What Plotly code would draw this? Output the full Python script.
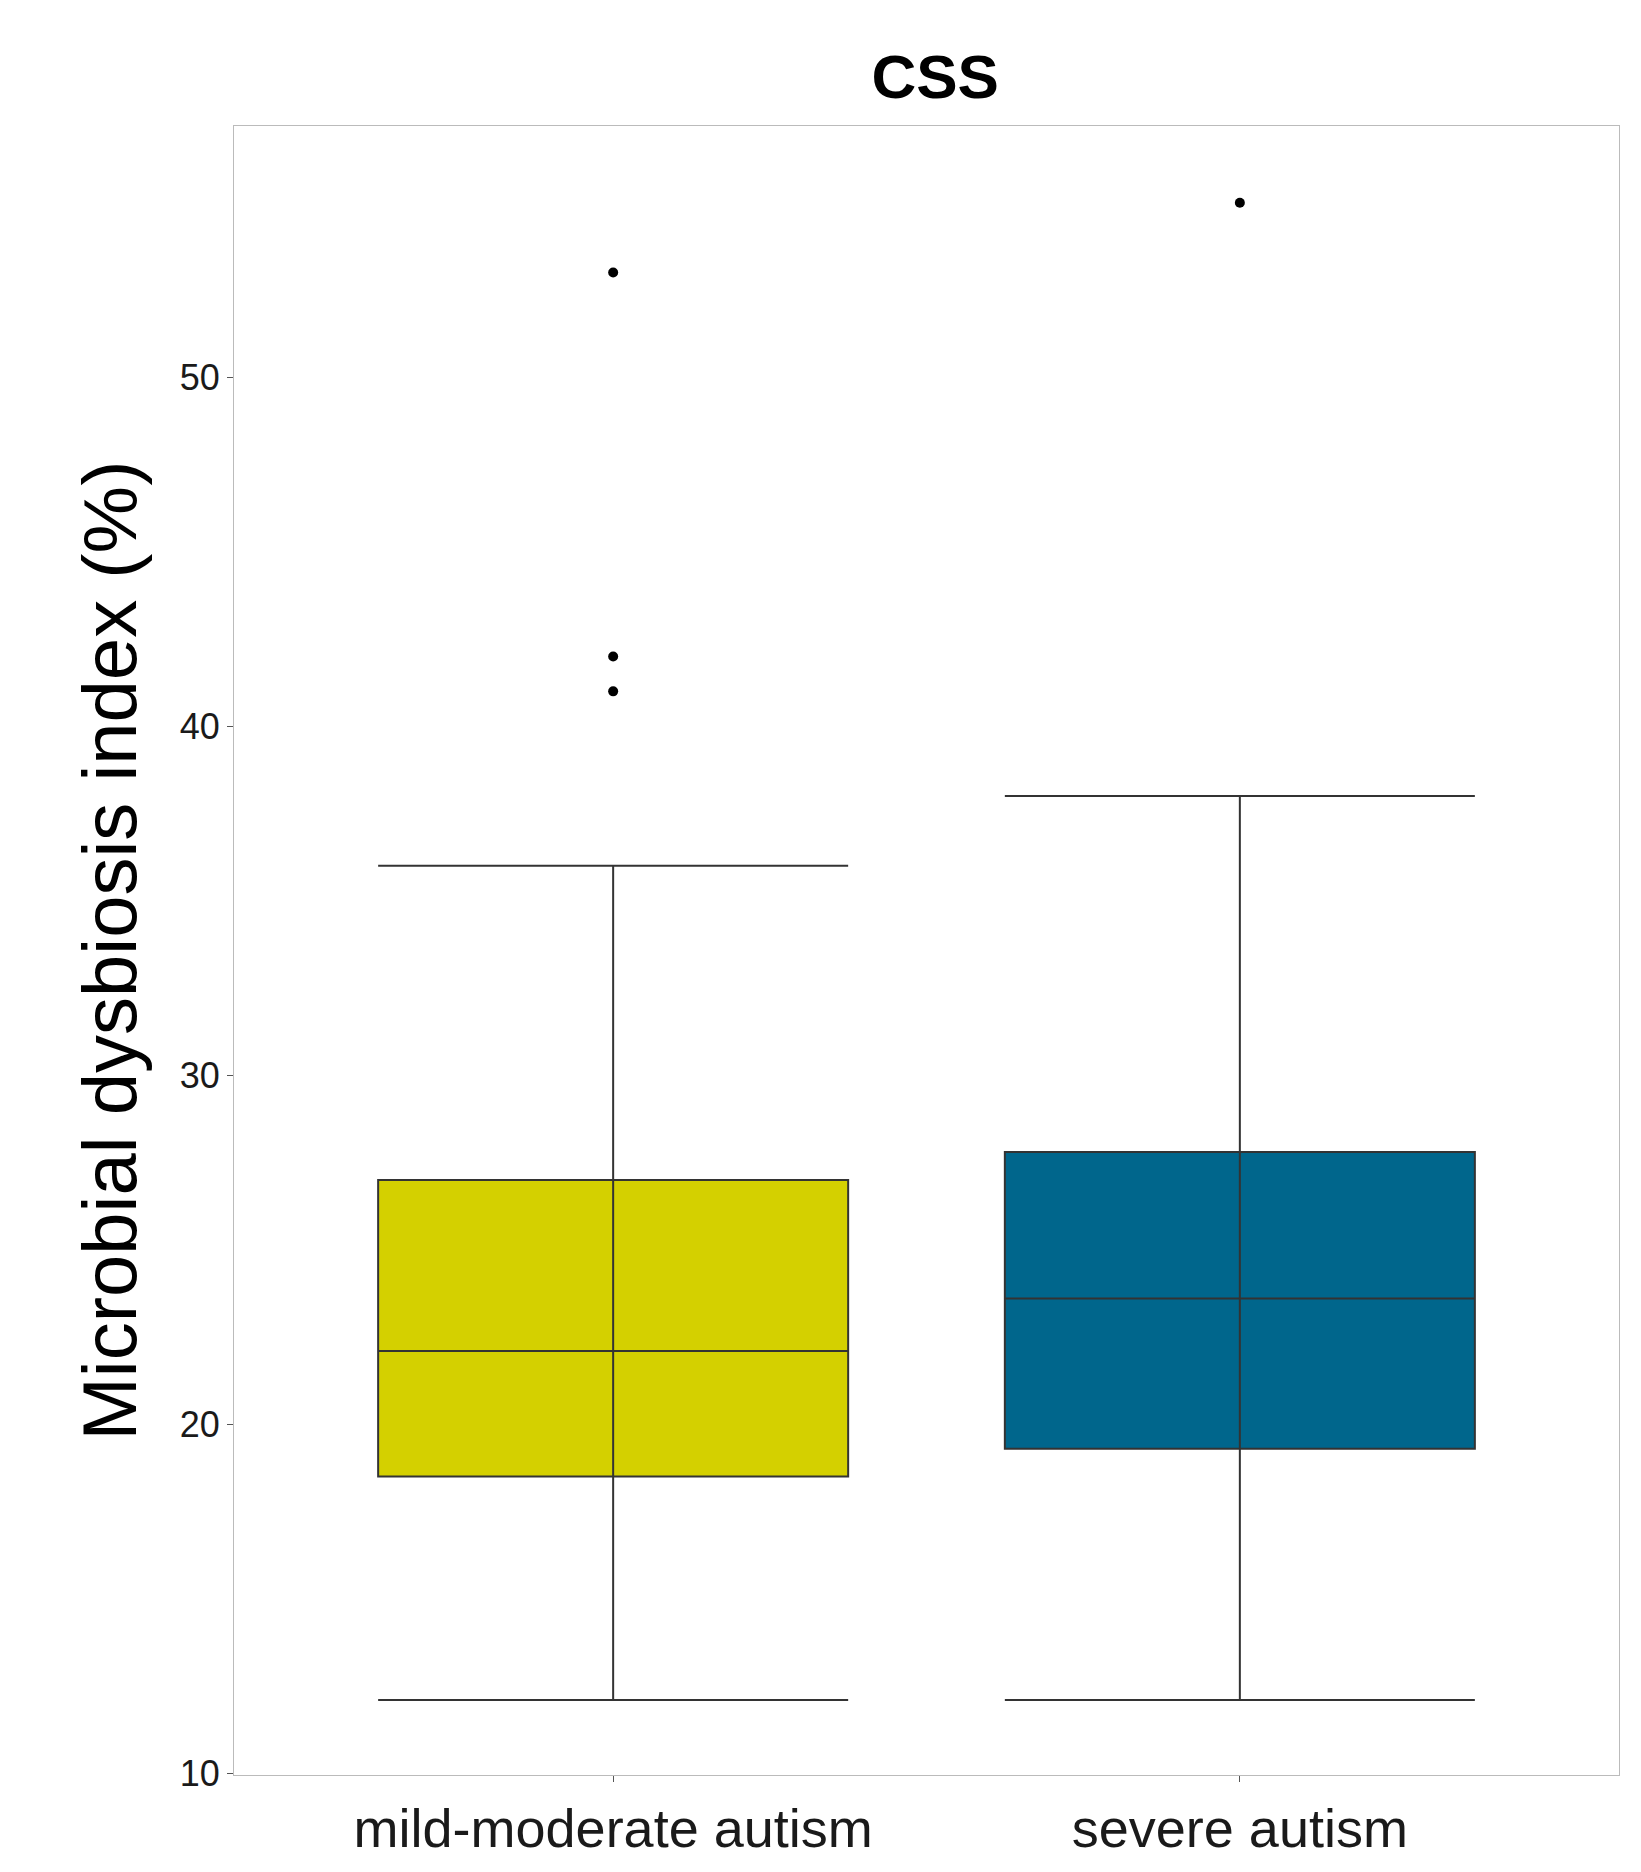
import plotly.graph_objects as go

categories = ["mild-moderate autism", "severe autism"]
q1 = [18.5, 19.3]
median = [22.1, 23.6]
q3 = [27.0, 27.8]
lower = [12.1, 12.1]
upper = [36.0, 38.0]
colors = ["#D4D000", "#00668C"]
outlier_x = [0, 0, 0, 1]
outlier_y = [53.0, 42.0, 41.0, 55.0]
yticks = [10, 20, 30, 40, 50]

fig = go.Figure()
for i in range(2):
    fig.add_trace(go.Box(x=[i], q1=[q1[i]], median=[median[i]], q3=[q3[i]],
                         lowerfence=[lower[i]], upperfence=[upper[i]],
                         width=0.75, whiskerwidth=1, fillcolor=colors[i],
                         line=dict(color="#333333", width=2), boxpoints=False,
                         showlegend=False))
    # whisker line continuing through the box (ggplot errorbar style)
    fig.add_trace(go.Scatter(x=[i, i], y=[q1[i], q3[i]], mode="lines",
                             line=dict(color="#333333", width=2), showlegend=False))
fig.add_trace(go.Scatter(x=outlier_x, y=outlier_y, mode="markers",
                         marker=dict(color="black", size=10), showlegend=False))
fig.update_layout(
    width=1641, height=1872, plot_bgcolor="white", paper_bgcolor="white",
    font=dict(family="Liberation Sans, Arial", color="black"),
    title=dict(text="<b>CSS</b>", x=0.565, xanchor="center", y=0.975, font=dict(size=62)),
    margin=dict(l=226, r=30, t=118, b=105),
    xaxis=dict(range=[-0.605, 1.605], tickvals=[0, 1], ticktext=categories,
               tickfont=dict(size=54, color="#1a1a1a"), showline=True, linecolor="#bbbbbb",
               mirror=True, ticks="outside", ticklen=6, tickcolor="#555", showgrid=False, zeroline=False),
    yaxis=dict(range=[9.95, 57.2], tickvals=yticks, tickfont=dict(size=36, color="#1a1a1a"),
               title=dict(text="Microbial dysbiosis index (%)", font=dict(size=76), standoff=18),
               showline=True, linecolor="#bbbbbb", mirror=True, ticks="outside",
               ticklen=6, tickcolor="#555", showgrid=False, zeroline=False),
)
fig.write_html("out.html")
